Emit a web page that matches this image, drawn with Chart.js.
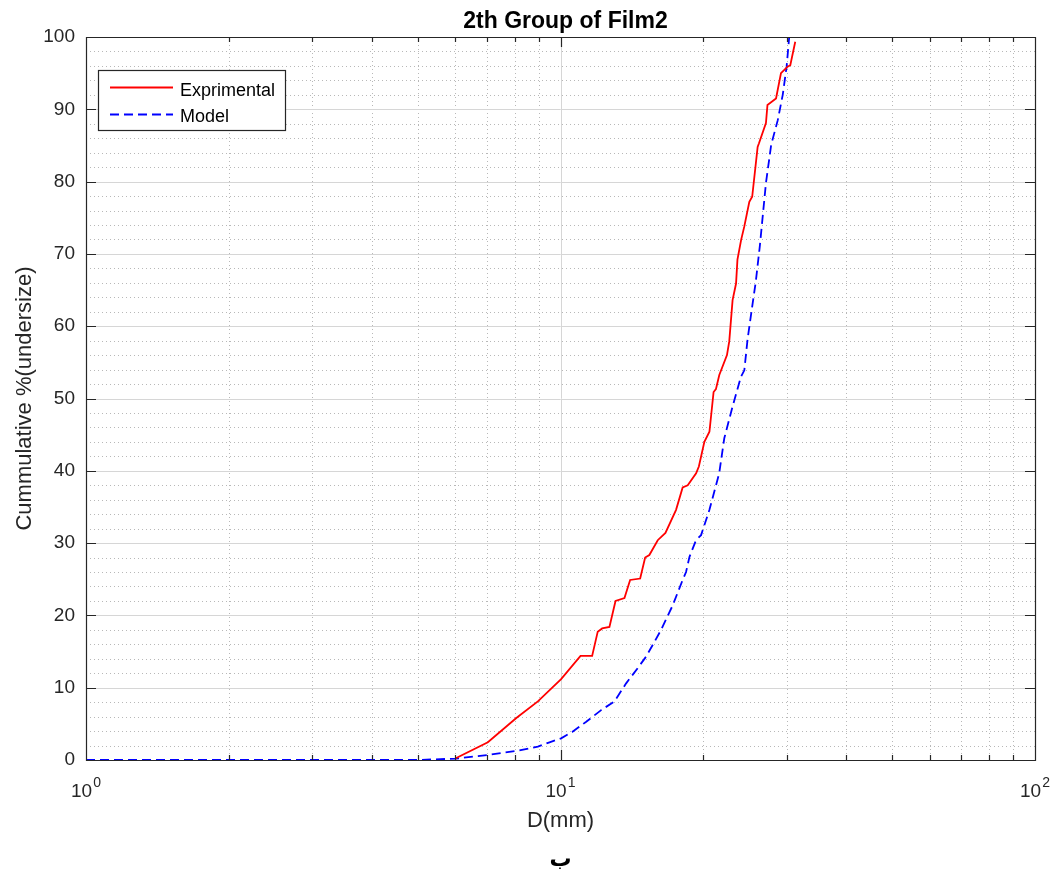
<!DOCTYPE html>
<html>
<head>
<meta charset="utf-8">
<title>2th Group of Film2</title>
<script src="https://cdn.jsdelivr.net/npm/chart.js@4.4.0/dist/chart.umd.min.js"></script>
<style>
  html, body { margin: 0; padding: 0; background: #fff; }
  canvas { display: block; }
</style>
</head>
<body>
<canvas id="chart" width="1057" height="877"></canvas>
<script>
// Exprimental curve
const expD = [6.0, 7.03, 8.07, 8.96, 10.03, 11.02, 11.66, 11.98, 12.24, 12.68, 13.06, 13.64,
  14.02, 14.72, 15.08, 15.39, 16.03, 16.64, 17.52, 18.09, 18.54, 19.31, 19.57, 20.1, 20.6,
  21.02, 21.26, 21.61, 22.43, 22.68, 23.05, 23.44, 23.6, 24.02, 24.4, 25.0, 25.35, 26.03,
  26.2, 27.1, 27.3, 28.46, 29.15, 30.1, 30.5, 31.24];
const expCum = [0.2, 2.45, 5.8, 8.1, 11.2, 14.4, 14.4, 17.75, 18.2, 18.4, 22.0, 22.4,
  24.9, 25.1, 28.0, 28.35, 30.4, 31.4, 34.6, 37.7, 38.0, 39.65, 40.6, 44.0, 45.4,
  50.9, 51.3, 53.25, 56.0, 57.9, 63.6, 65.9, 69.2, 71.9, 73.8, 77.2, 77.9, 84.8,
  85.3, 88.1, 90.6, 91.5, 95.0, 95.9, 96.1, 99.35];

// Model curve
const modelD = [1, 5, 6.03, 7.03, 8.07, 8.96, 9.48, 10.03, 10.6, 11.33, 12.18, 12.99, 13.75,
  14.54, 15.15, 15.7, 16.29, 17.24, 18.09, 18.39, 18.7, 19.3, 19.78, 20.6, 21.6, 22.14,
  23.05, 24.0, 24.4, 24.8, 25.35, 25.8, 26.3, 27.1, 27.8, 28.7, 29.4, 29.96, 30.3, 30.45];
const modelCum = [0, 0, 0.2, 0.7, 1.25, 1.85, 2.45, 3.0, 3.9, 5.3, 6.9, 8.1, 10.6,
  12.7, 14.3, 16.1, 18.0, 21.4, 24.9, 26.0, 28.1, 30.4, 31.1, 34.6, 39.65, 44.5,
  48.9, 53.0, 53.9, 58.3, 62.7, 66.2, 71.0, 79.8, 85.1, 88.5, 92.0, 95.9, 99.6, 101];

const xDecades = [1, 10, 100];
const xTickLabels = [["10", "0"], ["10", "1"], ["10", "2"]];
const yMin = 0, yMax = 100, yStep = 10, yMinorStep = 2;

const titleText = "2th Group of Film2";
const xTitle = "D(mm)";
const yTitle = "Cummulative %(undersize)";
const captionText = "ب";
const legendLabels = ["Exprimental", "Model"];

const axisColor = "#262626";
const fontFamily = "'Liberation Sans', Arial, Helvetica, sans-serif";

function toPoints(xs, ys) {
  return xs.map((v, i) => ({ x: v, y: ys[i] }));
}

// minor log positions 2..9 inside each decade
function minorLogValues() {
  const vals = [];
  for (let d = 0; d < xDecades.length - 1; d++) {
    for (let k = 2; k <= 9; k++) vals.push(xDecades[d] * k);
  }
  return vals;
}

const matlabAxes = {
  id: "matlabAxes",
  beforeDatasetsDraw(chart) {
    const { ctx, chartArea: a, scales: { x, y } } = chart;
    ctx.save();
    ctx.lineWidth = 1;

    // minor grid (dotted)
    ctx.strokeStyle = "#b8b8b8";
    ctx.setLineDash([1, 3]);
    ctx.beginPath();
    minorLogValues().forEach((v) => {
      const px = Math.round(x.getPixelForValue(v)) + 0.5;
      ctx.moveTo(px, a.top);
      ctx.lineTo(px, a.bottom);
    });
    for (let v = yMin + yMinorStep; v < yMax; v += yMinorStep) {
      if (v % yStep === 0) continue;
      const py = Math.round(y.getPixelForValue(v)) + 0.5;
      ctx.moveTo(a.left, py);
      ctx.lineTo(a.right, py);
    }
    ctx.stroke();

    // major grid (solid)
    ctx.setLineDash([]);
    ctx.strokeStyle = "#d6d6d6";
    ctx.beginPath();
    xDecades.slice(1, -1).forEach((v) => {
      const px = Math.round(x.getPixelForValue(v)) + 0.5;
      ctx.moveTo(px, a.top);
      ctx.lineTo(px, a.bottom);
    });
    for (let v = yMin + yStep; v < yMax; v += yStep) {
      const py = Math.round(y.getPixelForValue(v)) + 0.5;
      ctx.moveTo(a.left, py);
      ctx.lineTo(a.right, py);
    }
    ctx.stroke();
    ctx.restore();
  },
  afterDatasetsDraw(chart) {
    const { ctx, chartArea: a, scales: { x, y } } = chart;
    ctx.save();

    // box and inward ticks
    ctx.strokeStyle = axisColor;
    ctx.lineWidth = 1.2;
    ctx.setLineDash([]);
    ctx.beginPath();
    ctx.rect(Math.round(a.left) + 0.5, Math.round(a.top) + 0.5,
      Math.round(a.right - a.left), Math.round(a.bottom - a.top));
    const tick = (px, len) => {
      px = Math.round(px) + 0.5;
      ctx.moveTo(px, a.bottom);
      ctx.lineTo(px, a.bottom - len);
      ctx.moveTo(px, a.top);
      ctx.lineTo(px, a.top + len);
    };
    minorLogValues().forEach((v) => tick(x.getPixelForValue(v), 5));
    xDecades.forEach((v) => tick(x.getPixelForValue(v), 10));
    for (let v = yMin; v <= yMax; v += yStep) {
      const py = Math.round(y.getPixelForValue(v)) + 0.5;
      ctx.moveTo(a.left, py);
      ctx.lineTo(a.left + 10, py);
      ctx.moveTo(a.right, py);
      ctx.lineTo(a.right - 10, py);
    }
    ctx.stroke();

    // x tick labels 10^n
    ctx.fillStyle = axisColor;
    ctx.textBaseline = "alphabetic";
    ctx.textAlign = "left";
    xDecades.forEach((v, i) => {
      const [base, sup] = xTickLabels[i];
      ctx.font = "19px " + fontFamily;
      const wb = ctx.measureText(base).width;
      ctx.font = "14px " + fontFamily;
      const ws = ctx.measureText(sup).width;
      const start = x.getPixelForValue(v) - (wb + 1 + ws) / 2;
      ctx.font = "19px " + fontFamily;
      ctx.fillText(base, start, 797);
      ctx.font = "14px " + fontFamily;
      ctx.fillText(sup, start + wb + 1, 787);
    });

    // title
    ctx.textAlign = "center";
    ctx.font = "bold 23px " + fontFamily;
    ctx.fillStyle = "#000";
    ctx.fillText(titleText, (a.left + a.right) / 2 + 5, 28);

    // caption under the axis label
    ctx.font = "bold 22px 'DejaVu Sans', sans-serif";
    ctx.fillText(captionText, (a.left + a.right) / 2, 866);

    // legend
    const lx = 98.5, ly = 70.5, lw = 187, lh = 60;
    ctx.fillStyle = "#fff";
    ctx.fillRect(lx, ly, lw, lh);
    ctx.strokeStyle = axisColor;
    ctx.lineWidth = 1.2;
    ctx.strokeRect(lx, ly, lw, lh);
    chart.data.datasets.forEach((ds, i) => {
      const rowY = [87.5, 114.5][i];
      ctx.strokeStyle = ds.borderColor;
      ctx.lineWidth = ds.borderWidth;
      ctx.setLineDash(ds.borderDash || []);
      ctx.beginPath();
      ctx.moveTo(110, rowY);
      ctx.lineTo(173, rowY);
      ctx.stroke();
      ctx.setLineDash([]);
      ctx.fillStyle = "#000";
      ctx.textAlign = "left";
      ctx.font = "18px " + fontFamily;
      ctx.fillText(legendLabels[i], 180, [96, 122][i]);
    });

    ctx.restore();
  },
};

const ctx = document.getElementById("chart").getContext("2d");
const chart = new Chart(ctx, {
  type: "line",
  data: {
    datasets: [
      {
        label: legendLabels[0],
        data: toPoints(expD, expCum),
        borderColor: "#ff0000",
        borderWidth: 1.8,
        pointRadius: 0,
        tension: 0,
        fill: false,
      },
      {
        label: legendLabels[1],
        data: toPoints(modelD, modelCum),
        borderColor: "#0000ff",
        borderWidth: 1.8,
        borderDash: [9, 5],
        pointRadius: 0,
        tension: 0,
        fill: false,
      },
    ],
  },
  options: {
    responsive: false,
    animation: false,
    layout: { padding: { top: 37, right: 22, bottom: 40, left: 0 } },
    plugins: {
      legend: { display: false },
      title: { display: false },
      tooltip: { enabled: false },
    },
    scales: {
      x: {
        type: "logarithmic",
        min: xDecades[0],
        max: xDecades[xDecades.length - 1],
        grid: { display: false, drawTicks: false },
        border: { display: false },
        ticks: { display: false },
        title: {
          display: true,
          text: xTitle,
          color: axisColor,
          font: { family: fontFamily, size: 22 },
          padding: { top: 0, bottom: 3 },
        },
        afterFit(scale) {
          scale.height = 77;
        },
      },
      y: {
        min: yMin,
        max: yMax,
        grid: { display: false, drawTicks: false },
        border: { display: false },
        ticks: {
          stepSize: yStep,
          color: axisColor,
          padding: 11,
          font: { family: fontFamily, size: 19 },
        },
        title: {
          display: true,
          text: yTitle,
          color: axisColor,
          font: { family: fontFamily, size: 22 },
          padding: { top: 12, bottom: 0 },
        },
        afterFit(scale) {
          scale.width = 86;
        },
      },
    },
  },
  plugins: [matlabAxes],
});
</script>
</body>
</html>
